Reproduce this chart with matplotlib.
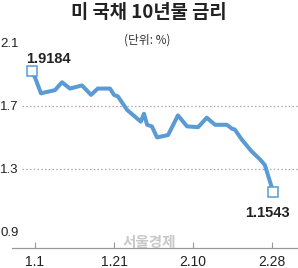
import matplotlib
matplotlib.use("Agg")
import matplotlib.pyplot as plt

plt.rcParams['font.family'] = ['Liberation Sans', 'Noto Sans CJK KR', 'DejaVu Sans']

# ---- data ----
x_pos = [-0.76, 0.0, 1.52, 5.06, 6.84, 8.86, 11.9, 14.2, 15.9, 19.0, 20.0, 21.0,
         23.3, 26.8, 27.6, 28.4, 29.6, 30.9, 33.7, 36.2, 38.5, 41.3, 43.5, 45.6,
         48.6, 49.9, 50.6, 52.4, 54.9, 57.0, 58.2, 59.0, 60.3]
rate = [1.9184, 1.88, 1.78, 1.80, 1.85, 1.81, 1.83, 1.77, 1.81, 1.81, 1.77, 1.76,
        1.675, 1.60, 1.65, 1.58, 1.57, 1.50, 1.515, 1.64, 1.57, 1.565, 1.625, 1.58,
        1.58, 1.555, 1.55, 1.485, 1.41, 1.36, 1.325, 1.26, 1.1543]
x_ticks = [0, 20, 40, 60]
x_labels = ['1.1', '1.21', '2.10', '2.28']
y_ticks = [0.9, 1.3, 1.7, 2.1]
y_labels = ['0.9', '1.3', '1.7', '2.1']
grid_vals = [1.3, 1.7]
title = '미 국채 10년물 금리'
unit = '(단위: %)'

LINE = '#5b9bd5'
TXT = '#222222'

fig = plt.figure(figsize=(2.98, 2.68), dpi=100)
ax = fig.add_axes([12/298, 20/268, 286/298, (248-35)/268])
ax.set_xlim(-5.82, 66.6)
ax.set_ylim(0.798, 2.15)

for g in grid_vals:
    ax.axhline(g, xmin=0.035, xmax=1, color='#aaaaaa', lw=0.9, ls=(0, (1.2, 1.8)), zorder=1)

ax.plot(x_pos, rate, color=LINE, lw=2.9, solid_joinstyle='round', solid_capstyle='round', zorder=3)
ax.plot([x_pos[0], x_pos[-1]], [rate[0], rate[-1]], ls='none', marker='s', ms=6.5,
        mfc='white', mec=LINE, mew=1.1, zorder=4)

ax.annotate(f'{rate[0]:.4f}', (x_pos[0], rate[0]), xytext=(16, 12), textcoords='offset pixels',
            ha='center', va='center', fontsize=10.5, fontweight='bold', color=TXT)
ax.annotate(f'{rate[-1]:.4f}', (x_pos[-1], rate[-1]), xytext=(-6, -21), textcoords='offset pixels',
            ha='center', va='center', fontsize=10.5, fontweight='bold', color=TXT)

for s in ['top', 'right', 'left']:
    ax.spines[s].set_visible(False)
ax.spines['bottom'].set_color('#999999')
ax.spines['bottom'].set_linewidth(0.9)

ax.set_xticks(x_ticks)
ax.set_xticklabels(x_labels, fontsize=10, color=TXT)
ax.tick_params(axis='x', direction='in', length=4, width=0.8, color='#999999', pad=5)

ax.set_yticks(y_ticks)
ax.set_yticklabels(y_labels, fontsize=9.5, color=TXT)
ax.tick_params(axis='y', length=0, pad=8.6)
for lab in ax.get_yticklabels():
    lab.set_horizontalalignment('left')

fig.text(0.5, 1 - 13/268, title, ha='center', va='center', fontsize=13.5, fontweight='bold',
         color=TXT, family=['Noto Sans CJK KR', 'DejaVu Sans'])
fig.text(0.495, 1 - 40/268, unit, ha='center', va='center', fontsize=8.5,
         color='#333333', family=['Noto Sans CJK KR', 'DejaVu Sans'])
fig.text(149/298, 1 - 242/268, '서울경제', ha='center', va='center', fontsize=10.5,
         fontweight='bold', color='#bbbbbb', alpha=0.8, family=['Noto Sans CJK KR', 'DejaVu Sans'], zorder=0)

fig.savefig('out.png', dpi=100)
